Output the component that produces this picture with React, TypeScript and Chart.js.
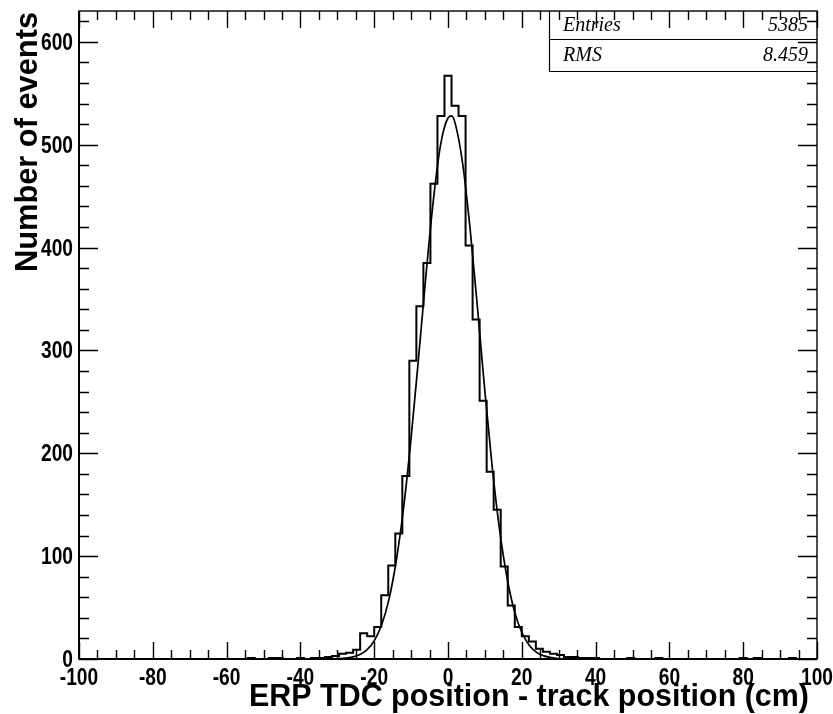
import React, { useEffect, useRef } from 'react';
import { Chart, registerables } from 'chart.js';

Chart.register(...registerables);

// Histogram: 105 equal bins between histMin and histMax
const histMin = -100;
const histMax = 100;
const counts = [
  0, 0, 0, 0, 0, 0, 0, 0, 0, 0, 0, 0, 0, 0, 0,
  0, 0, 0, 0, 0, 0, 0, 0, 0, 1, 0, 0, 1, 1, 0,
  0, 1, 0, 1, 1, 2, 3, 5, 6, 9, 25, 22, 31, 62, 91,
  122, 178, 290, 343, 385, 462, 528, 567, 538, 528, 402, 330, 251, 182, 145,
  90, 52, 31, 22, 17, 10, 7, 5, 4, 2, 2, 1, 1, 1, 0,
  0, 0, 0, 1, 0, 0, 0, 1, 0, 0, 0, 0, 0, 0, 0,
  0, 0, 0, 0, 1, 0, 1, 0, 0, 0, 0, 1, 0, 0, 0,
];

// Gaussian fit curve, sampled along x
const fitX = [-30, -28, -26, -24, -22, -20, -18, -16, -14, -12, -10, -8, -6, -4, -2, 0, 1, 2, 4, 6, 8, 10, 12, 14, 16, 18, 20, 22, 24, 26, 28, 30];
const fitY = [0.3, 0.8, 1.8, 4.1, 8.8, 17.6, 33, 58, 96, 148, 215, 292, 372, 445, 500, 526, 528, 520, 481, 418, 341, 260, 186, 125, 79, 46.5, 26, 13.4, 6.5, 3.0, 1.3, 0.5];

// Axes
const xMin = -100;
const xMax = 100;
const xMajor = 20;
const xMinor = 5;
const yMin = 0;
const yMax = 630;
const yMajor = 100;
const yMinor = 20;

const xTitle = 'ERP TDC position - track position (cm)';
const yTitle = 'Number of events';

// Statistics box
const statNames = ['Entries', 'RMS'];
const statValues = ['5385', '8.459'];

const W = 833;
const H = 714;
const AREA = { left: 79, right: 817, top: 11, bottom: 659 };

const SANS = '"Liberation Sans", Arial, Helvetica, sans-serif';
const SERIF = '"Liberation Serif", "Times New Roman", serif';
const CONDENSE = 0.8;

function condensedText(ctx: any, text: string, x: number, y: number, sx: number) {
  ctx.save();
  ctx.translate(x, y);
  ctx.scale(sx, 1);
  ctx.fillText(text, 0, 0);
  ctx.restore();
}

const frameAndTicks = {
  id: 'frameAndTicks',
  afterDatasetsDraw(chart: any) {
    const { ctx, chartArea: a, scales } = chart;
    const x = scales.x;
    const y = scales.y;
    ctx.save();

    // statistics box
    const boxL = 549;
    const boxR = a.right;
    const boxT = a.top;
    const rows = [boxT, 39, 71];
    ctx.fillStyle = '#fff';
    ctx.fillRect(boxL, boxT, boxR - boxL, rows[2] - boxT);
    ctx.strokeStyle = '#000';
    ctx.lineWidth = 1.2;
    ctx.beginPath();
    ctx.moveTo(boxL + 0.5, boxT);
    ctx.lineTo(boxL + 0.5, rows[2] + 0.5);
    ctx.lineTo(boxR, rows[2] + 0.5);
    ctx.moveTo(boxL, rows[1] + 0.5);
    ctx.lineTo(boxR, rows[1] + 0.5);
    ctx.stroke();
    ctx.fillStyle = '#000';
    ctx.font = `italic 20px ${SERIF}`;
    ctx.textBaseline = 'middle';
    statNames.forEach((n, i) => {
      const cy = (rows[i] + rows[i + 1]) / 2 + 1;
      ctx.textAlign = 'left';
      ctx.fillText(n, boxL + 14, cy);
      ctx.textAlign = 'right';
      ctx.fillText(statValues[i], boxR - 9, cy);
    });

    // frame
    ctx.strokeStyle = '#000';
    ctx.lineWidth = 1.4;
    ctx.strokeRect(a.left, a.top, a.right - a.left, a.bottom - a.top);
    ctx.lineWidth = 2;
    ctx.beginPath();
    ctx.moveTo(a.left, a.bottom);
    ctx.lineTo(a.right, a.bottom);
    ctx.moveTo(a.left, a.top);
    ctx.lineTo(a.left, a.bottom);
    ctx.stroke();

    // ticks on all four sides, pointing inwards
    ctx.lineWidth = 1.4;
    ctx.beginPath();
    for (let v = xMin; v <= xMax; v += xMinor) {
      const px = Math.round(x.getPixelForValue(v)) + 0.5;
      const len = v % xMajor === 0 ? 17 : 9;
      ctx.moveTo(px, a.bottom);
      ctx.lineTo(px, a.bottom - len);
      ctx.moveTo(px, a.top);
      ctx.lineTo(px, a.top + len);
    }
    for (let v = yMin; v <= yMax; v += yMinor) {
      const py = Math.round(y.getPixelForValue(v)) + 0.5;
      const len = v % yMajor === 0 ? 19 : 10;
      ctx.moveTo(a.left, py);
      ctx.lineTo(a.left + len, py);
      ctx.moveTo(a.right, py);
      ctx.lineTo(a.right - len, py);
    }
    ctx.stroke();

    // tick labels from the scales' own ticks
    ctx.fillStyle = '#000';
    ctx.font = `bold 24px ${SANS}`;
    ctx.textBaseline = 'alphabetic';
    ctx.textAlign = 'center';
    x.ticks.forEach((t: any) => {
      condensedText(ctx, String(t.value), x.getPixelForValue(t.value), a.bottom + 26, CONDENSE);
    });
    ctx.textAlign = 'right';
    y.ticks.forEach((t: any) => {
      if (t.value % yMajor !== 0) return;
      condensedText(ctx, String(t.value), a.left - 6, y.getPixelForValue(t.value) + 8, CONDENSE);
    });

    // axis titles, bold and condensed, aligned to the axis ends
    ctx.font = `bold 32px ${SANS}`;
    ctx.textAlign = 'right';
    const xw = ctx.measureText(xTitle).width;
    condensedText(ctx, xTitle, 809, 706, Math.min(1, 560 / xw));

    const yw = ctx.measureText(yTitle).width;
    ctx.save();
    ctx.translate(37, 12);
    ctx.rotate(-Math.PI / 2);
    ctx.scale(Math.min(1, 260 / yw), 1);
    ctx.fillText(yTitle, 0, 0);
    ctx.restore();

    ctx.restore();
  },
};

export default function App() {
  const ref = useRef<HTMLCanvasElement | null>(null);

  useEffect(() => {
    if (!ref.current) return;
    const binW = (histMax - histMin) / counts.length;
    const histPts = counts.map((c, i) => ({ x: histMin + i * binW, y: c }));
    histPts.push({ x: histMax, y: counts[counts.length - 1] });
    const fitPts = fitX.map((v, i) => ({ x: v, y: fitY[i] }));

    const chart = new Chart(ref.current, {
      type: 'line',
      data: {
        datasets: [
          {
            data: histPts,
            stepped: true,
            borderColor: '#000',
            borderWidth: 2,
            pointRadius: 0,
            fill: false,
          },
          {
            data: fitPts,
            borderColor: '#000',
            borderWidth: 1.7,
            pointRadius: 0,
            fill: false,
            cubicInterpolationMode: 'monotone',
          },
        ],
      },
      options: {
        animation: false,
        responsive: false,
        devicePixelRatio: 1,
        layout: { padding: { left: 0, top: AREA.top, right: W - AREA.right, bottom: 0 } },
        plugins: { legend: { display: false }, tooltip: { enabled: false } },
        scales: {
          x: {
            type: 'linear',
            min: xMin,
            max: xMax,
            afterFit: (s: any) => { s.height = H - AREA.bottom; },
            grid: { display: false, drawTicks: false },
            border: { display: false },
            ticks: { stepSize: xMajor, autoSkip: false, display: false },
          },
          y: {
            type: 'linear',
            min: yMin,
            max: yMax,
            afterFit: (s: any) => { s.width = AREA.left; },
            grid: { display: false, drawTicks: false },
            border: { display: false },
            ticks: { stepSize: yMajor, display: false },
          },
        },
      },
      plugins: [frameAndTicks],
    });
    return () => chart.destroy();
  }, []);

  return (
    <div style={{ position: 'fixed', left: 0, top: 0, width: W, height: H, background: '#fff' }}>
      <canvas ref={ref} width={W} height={H} style={{ display: 'block', width: W, height: H }} />
    </div>
  );
}
